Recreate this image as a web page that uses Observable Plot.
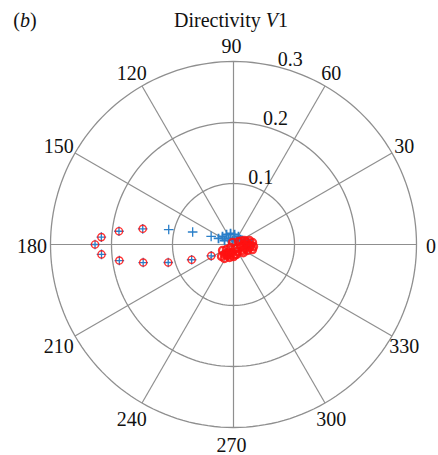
<!DOCTYPE html>
<html>
<head>
<meta charset="utf-8">
<script src="https://cdn.jsdelivr.net/npm/d3@7"></script>
<script src="https://cdn.jsdelivr.net/npm/@observablehq/plot@0.6"></script>
<style>
  html, body { margin: 0; padding: 0; background: #fff; }
  #chart svg { display: block; }
</style>
</head>
<body>
<div id="chart"></div>
<script>
// ---- data (angle in degrees, radius) ----
const blueAngle = [180, 176.8, 184.3, 173.4, 188, 170.2, 191.3, 167, 195.4, 163, 200, 160, 207,
  144, 125, 105, 84, 58, 35.5, 15, 7.6, 3.4, 130, 156, 104, 53, 158, 0, 2];
const blueR = [0.227, 0.217, 0.217, 0.189, 0.189, 0.151, 0.151, 0.109, 0.111, 0.070, 0.073, 0.039, 0.041,
  0.0223, 0.020, 0.0187, 0.0165, 0.0155, 0.014, 0.0187, 0.0248, 0.028, 0.0128, 0.0161, 0.0068, 0.0082, 0.0265, 0.022, 0.030];

const redAngle = [180, 176.8, 184.3, 173.4, 188, 170.2, 191.3, 195.4, 200, 207,
  117, 31, 20, 14, 6, 354, 345, 337, 326, 300, 263, 238, 228, 225, 237, 253, 270, 216, 209, 225,
  344, 356, 297, 340, 357, 241, 287, 10, 350, 320, 280, 250, 232, 0, 25];
const redR = [0.227, 0.217, 0.217, 0.189, 0.189, 0.151, 0.151, 0.111, 0.073, 0.041,
  0.0037, 0.0096, 0.0192, 0.027, 0.0313, 0.033, 0.0322, 0.025, 0.0177, 0.0132, 0.0132, 0.0155, 0.022, 0.0278, 0.0273, 0.0223, 0.0197, 0.0141, 0.0205, 0.007,
  0.012, 0.0214, 0.0073, 0.0192, 0.028, 0.0205, 0.0171, 0.022, 0.027, 0.021, 0.017, 0.018, 0.019, 0.016, 0.014];

const ringTicks = [0.1, 0.2, 0.3];
const angleTicks = [0, 30, 60, 90, 120, 150, 180, 210, 240, 270, 300, 330];
const angleLabels = ["0", "30", "60", "90", "120", "150", "180", "210", "240", "270", "300", "330"];
const ringLabels = ["0.1", "0.2", "0.3"];

// ---- helpers ----
const rad = d => d * Math.PI / 180;
const rMax = 0.3;
const toXY = (a, r) => ({x: r * Math.cos(rad(a)), y: r * Math.sin(rad(a)), r});
const blue = blueAngle.map((a, i) => toXY(a, blueR[i]));
const red = redAngle.map((a, i) => toXY(a, redR[i]));

const ringPts = ringTicks.flatMap(r => d3.range(0, 361, 2).map(a => ({...toXY(a, r), ring: r})));
const spokes = angleTicks.filter(a => a < 180);

const FONT = "'Liberation Serif', 'Times New Roman', serif";
const gridColor = "#8f8f8f";
const labelR = rMax * 1.09;

const plot = Plot.plot({
  width: 438,
  height: 455,
  marginLeft: 50,
  marginRight: 22,
  marginTop: 61,
  marginBottom: 28,
  x: {domain: [-rMax, rMax], axis: null},
  y: {domain: [-rMax, rMax], axis: null},
  style: {fontFamily: FONT, background: "#fff", overflow: "visible"},
  marks: [
    Plot.link(spokes, {
      x1: a => -rMax * Math.cos(rad(a)), y1: a => -rMax * Math.sin(rad(a)),
      x2: a => rMax * Math.cos(rad(a)), y2: a => rMax * Math.sin(rad(a)),
      stroke: gridColor, strokeWidth: 1.2
    }),
    Plot.line(ringPts, {x: "x", y: "y", z: "ring", stroke: gridColor, strokeWidth: 1.3}),
    Plot.text(angleTicks, {
      x: a => labelR * Math.cos(rad(a)), y: a => labelR * Math.sin(rad(a)),
      text: (a, i) => angleLabels[i], fontSize: 20, fill: "#111", textAnchor: "middle", lineAnchor: "middle",
      dx: -2, dy: 2
    }),
    Plot.text(ringTicks, {
      x: r => r * Math.cos(rad(76)), y: r => r * Math.sin(rad(76)),
      text: (r, i) => ringLabels[i], fontSize: 20, fill: "#111", textAnchor: "start", lineAnchor: "bottom", dy: -1
    }),
    Plot.dot(blue, {x: "x", y: "y", symbol: "plus", r: 3.2, stroke: "#2a7fc9",
      strokeWidth: d => d.r < 0.035 ? 1.8 : 1.3}),
    Plot.dot(red, {x: "x", y: "y", symbol: "circle", r: 3.6, stroke: "#ff1010",
      strokeWidth: d => d.r < 0.035 ? 2.3 : 1.4, strokeOpacity: 0.85, fill: "none"})
  ]
});

document.getElementById("chart").append(plot);

// title and panel label
const svg = d3.select(plot);
const cx = plot.scale("x").apply(0);
const t = svg.append("text")
  .attr("x", cx - 2).attr("y", 27)
  .attr("text-anchor", "middle")
  .attr("font-family", FONT).attr("font-size", 20).attr("fill", "#111");
t.append("tspan").text("Directivity ");
t.append("tspan").attr("font-style", "italic").text("V");
t.append("tspan").text("1");

const p = svg.append("text")
  .attr("x", 25).attr("y", 27)
  .attr("font-family", FONT).attr("font-size", 20).attr("fill", "#111");
p.append("tspan").text("(");
p.append("tspan").attr("font-style", "italic").text("b");
p.append("tspan").text(")");
</script>
</body>
</html>
